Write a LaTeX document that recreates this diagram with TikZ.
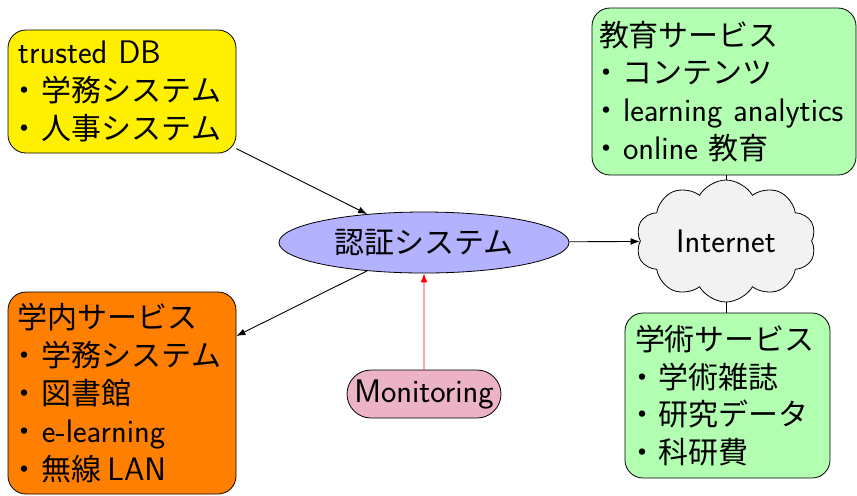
\documentclass[tikz,border=0pt]{standalone}
\usepackage{fontspec}
\newfontfamily\cjk{Noto Sans CJK JP}[Scale=0.92]
\newcommand\jtext[1]{{\cjk #1}}
% narrow list bullet
\newcommand\bul{\makebox[12pt][l]{\hspace{-4pt}\jtext{・}}}
\usetikzlibrary{shapes.symbols,shapes.misc,shapes.geometric,arrows.meta}
\tikzset{
  txt/.style={font=\fontsize{16.3}{18.9}\selectfont\sffamily},
  infobox/.style={txt, draw=black, rounded corners=9pt, align=left,
                  inner xsep=5pt, inner ysep=0pt},
  link/.style={draw=black, line width=0.45pt},
  arrow/.style={link, -{Latex[length=4.5pt,width=3.4pt]}},
}
\begin{document}
\begin{tikzpicture}[x=0.5pt, y=-0.5pt]
  \useasboundingbox (0,0) rectangle (857,495);

  % data sources and services
  \node[infobox, fill={rgb,255:red,255;green,240;blue,0},
        text width=104pt, minimum height=61.5pt] (trusted) at (122,91.5)
    {trusted DB\\\bul\jtext{学務システム}\\\bul\jtext{人事システム}};
  \node[infobox, fill=orange, text width=104pt, minimum height=101pt]
    (campus) at (122,393)
    {\jtext{学内サービス}\\\bul\jtext{学務システム}\\\bul\jtext{図書館}\\
     \bul e-learning\\\bul\jtext{無線}\,LAN};
  \node[infobox, fill=green!30, text width=125pt, inner xsep=3.5pt,
        minimum height=83.5pt] (edu) at (724,91.5)
    {\jtext{教育サービス}\\\bul\jtext{コンテンツ}\\\bul learning analytics\\
     \bul online \jtext{教育}};
  \node[infobox, fill=green!30, text width=92.5pt, minimum height=82.5pt]
    (acad) at (727.5,395.5)
    {\jtext{学術サービス}\\\bul\jtext{学術雑誌}\\\bul\jtext{研究データ}\\\bul\jtext{科研費}};

  % central authentication, network and monitoring
  \node[txt, ellipse, draw=black, fill=blue!30, minimum width=145pt,
        minimum height=30.5pt, inner sep=0pt] (auth) at (424,242.5)
    {\jtext{認証システム}};
  \node[txt, cloud, cloud puffs=10, cloud puff arc=120, aspect=1.5,
        draw=black, fill=gray!10, minimum width=90pt, minimum height=61pt,
        inner sep=0pt] (net) at (726,241) {Internet};
  \node[txt, rounded rectangle, draw=black, fill=purple!30,
        minimum width=81pt, minimum height=24pt, inner sep=2pt]
    (mon) at (424,394) {Monitoring};

  % connectors
  \draw[arrow] (trusted) -- (auth);
  \draw[arrow] (auth) -- (campus);
  \draw[arrow] (auth) -- (net);
  \draw[arrow, draw=red] (mon) -- (auth);
  \draw[link] (net.north) -- (net.north |- edu.south);
  \draw[link] (net.south) -- (net.south |- acad.north);
\end{tikzpicture}
\end{document}
